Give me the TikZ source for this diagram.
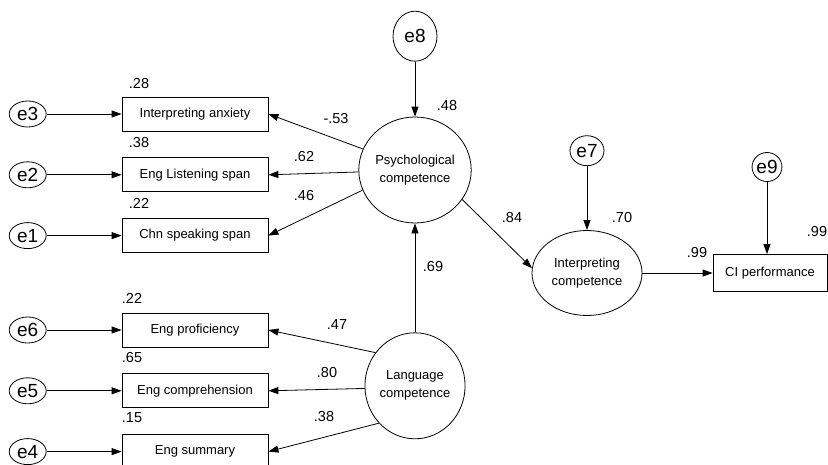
\documentclass[tikz,border=0pt]{standalone}
\usepackage{fontspec}
\setmainfont{Liberation Sans}
\usetikzlibrary{arrows.meta,positioning,shapes.geometric}

\begin{document}
\begin{tikzpicture}[
    x=1pt, y=-1pt,
    node distance=26pt and 75pt,
    obs/.style={rectangle, draw, line width=0.8pt, minimum width=146pt,
                minimum height=34pt, inner sep=1pt, font=\fontsize{13}{15}\selectfont},
    lat/.style={ellipse, draw, line width=0.8pt, minimum width=98pt,
                minimum height=106pt, inner sep=0pt, align=center,
                font=\fontsize{13}{18}\selectfont},
    err/.style={ellipse, draw, line width=0.8pt, minimum width=37pt,
                minimum height=26pt, inner sep=0pt, font=\fontsize{19}{20}\selectfont},
    lbl/.style={inner sep=0pt, font=\fontsize{14.5}{16}\selectfont},
    arr/.style={-{Triangle[length=10pt, width=7pt]}, line width=0.8pt}
]
\useasboundingbox (0,0) rectangle (828,464);
\clip (0,0) rectangle (828,464);

% indicators
\node[obs] (anx) at (195,114) {Interpreting anxiety};
\node[obs, below=26pt of anx] (lis) {Eng Listening span};
\node[obs, below=26pt of lis] (chn) {Chn speaking span};
\node[obs] (pro) at (195,330) {Eng proficiency};
\node[obs, below=26pt of pro] (com) {Eng comprehension};
\node[obs, below=26pt of com] (sum) {Eng summary};

% error terms
\node[err, left=75pt of anx] (e3) {e3};
\node[err, left=75pt of lis] (e2) {e2};
\node[err, left=75pt of chn] (e1) {e1};
\node[err, left=75pt of pro] (e6) {e6};
\node[err, left=75pt of com] (e5) {e5};
\node[err, left=75pt of sum] (e4) {e4};

% latent variables
\node[lat] (psy) at (415,170) {Psychological\\competence};
\node[lat, below=109pt of psy] (lan) {Language\\competence};
\node[lat, minimum width=110pt, minimum height=85pt] (int) at (587,273)
    {Interpreting\\competence};
\node[obs, minimum width=114pt, minimum height=37pt] (ci) at (770,273) {CI performance};

\node[err, minimum width=44pt, minimum height=50pt, above=55pt of psy] (e8) {e8};
\node[err, minimum width=34pt, minimum height=30pt, above=64pt of int] (e7) {e7};
\node[err, minimum width=29pt, minimum height=29pt] (e9) at (767,167) {e9};

% paths
\draw[arr] (e3) -- (anx);
\draw[arr] (e2) -- (lis);
\draw[arr] (e1) -- (chn);
\draw[arr] (e6) -- (pro);
\draw[arr] (e5) -- (com);
\draw[arr] (e4) -- (sum);

\draw[arr] (psy.158) -- (anx.east);
\draw[arr] (psy.182) -- (lis.east);
\draw[arr] (psy.201) -- (chn.east);
\draw[arr] (lan.140) -- (pro.east);
\draw[arr] (lan.183) -- (com.east);
\draw[arr] (lan.226) -- (sum.east);

\draw[arr] (lan) -- (psy);
\draw[arr] (e8) -- (psy);
\draw[arr] (psy.-32) -- (int.175);
\draw[arr] (e7) -- (int);
\draw[arr] (int) -- (ci);
\draw[arr] (e9) -- (e9 |- ci.north);

% estimates
\node[lbl] (r28) at (139,84) {.28};
\node[lbl] (r38) at (139,143) {.38};
\node[lbl] (r22a) at (139,203) {.22};
\node[lbl] (r22b) at (132,298) {.22};
\node[lbl] (r65) at (132,358) {.65};
\node[lbl] (r15) at (132,418) {.15};

\node[lbl] (w53) at (336,119) {-.53};
\node[lbl] (w62) at (304,157) {.62};
\node[lbl] (w46) at (304,196) {.46};
\node[lbl] (w47) at (337,325) {.47};
\node[lbl] (w80) at (327,373) {.80};
\node[lbl] (w38) at (324,417) {.38};

\node[lbl] (r48) at (447,106) {.48};
\node[lbl] (w84) at (512,218) {.84};
\node[lbl] (w69) at (433,267) {.69};
\node[lbl] (r70) at (622,218) {.70};
\node[lbl] (w99) at (697,253) {.99};
\node[lbl] (r99) at (817,232) {.99};
\end{tikzpicture}
\end{document}
